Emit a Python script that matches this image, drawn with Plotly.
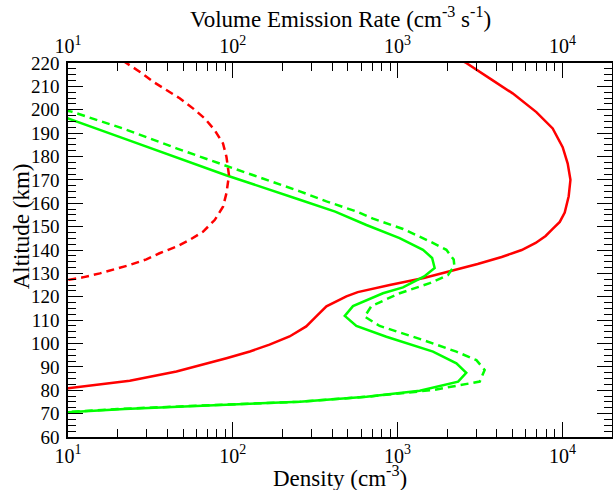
import plotly.graph_objects as go

# ---- data (altitude in km, values in cm^-3 or cm^-3 s^-1) ----
red_solid_alt = [224, 220, 213, 207, 199, 192, 184, 177, 170, 163, 156, 152, 149, 146, 143, 140, 137,
                 134, 131, 128, 125, 122, 120.2, 115.9, 111.6, 107.3, 103, 99.5, 96.6, 93.7, 88,
                 84.1, 80.8, 78]
red_solid_val = [2050, 2610, 3700, 4990, 6950, 8730, 10040, 10770, 11190, 10920, 10330, 9640, 8730,
                 7910, 6880, 5660, 4280, 3060, 2100, 1442, 896, 573, 489, 370, 321, 279, 221, 167,
                 127, 91.5, 45.5, 23.7, 10, 5]

red_dash_alt = [224, 220, 216.3, 212, 208.4, 204.9, 200.6, 196.3, 191.3, 185.6, 179.9, 172, 164.3, 158.5,
                152.8, 147.8, 144.3, 141.4, 138.6, 136, 133.6, 131.4, 130, 128.3, 127.2, 126]
red_dash_val = [18.5, 22.6, 27.2, 32.8, 39.5, 47.6, 57.3, 67.5, 77.6, 87.2, 91.5, 94.8, 91.5, 87.2,
                77.6, 65.9, 54.7, 45.4, 35.9, 29.9, 23.7, 18.7, 15.6, 12.3, 10.2, 8]

green_solid_alt = [199, 196.3, 188.5, 180, 172, 161.5, 156.4, 150.7, 145.1, 140.1, 136.6, 132.3, 128.7,
                   124, 121.5, 116, 111.8, 107.5, 102.9, 96.5, 91.5, 87.5, 83.7, 79.8, 77.2, 75.1, 72, 70]
green_solid_val = [7, 10, 20.3, 44, 91, 255, 418, 647, 1028, 1426, 1620, 1678, 1450,
                   1078, 815, 536, 478, 562, 855, 1640, 2275, 2610, 2330, 1362, 647, 255, 22, 7]

green_dash_alt = [201, 199.2, 192, 183.5, 176.4, 165.1, 160.8, 156.5, 153.4, 149, 143.7, 140.1, 135.9,
                  133.3, 129.3, 125.8, 121.5, 116, 111.5, 107.5, 101.5, 96.5, 92.9, 88.7, 83.7, 82.2,
                  80.1, 77.2, 75.1, 72, 70]
green_dash_val = [8, 10.5, 21.5, 45.5, 88, 255, 370, 562, 710, 1079, 1567, 1977, 2190,
                  2210, 2023, 1567, 1030, 693, 631, 778, 1426, 2275, 3006, 3375, 3150, 2380,
                  1640, 647, 255, 20, 7]

x_tickvals = [10, 100, 1000, 10000]
x_ticktext = ["10<sup>1</sup>", "10<sup>2</sup>", "10<sup>3</sup>", "10<sup>4</sup>"]
x_range_log = [1, 4.301]
y_range = [60, 220]

FONT = "Liberation Serif"
RED = "#ff0000"
GREEN = "#00ff00"

fig = go.Figure()
fig.add_trace(go.Scatter(x=red_solid_val, y=red_solid_alt, mode="lines",
                         line=dict(color=RED, width=2.5), showlegend=False))
fig.add_trace(go.Scatter(x=green_solid_val, y=green_solid_alt, mode="lines",
                         line=dict(color=GREEN, width=2.5), showlegend=False))
fig.add_trace(go.Scatter(x=red_dash_val, y=red_dash_alt, mode="lines", xaxis="x2",
                         line=dict(color=RED, width=2.5, dash="8px,5px"), showlegend=False))
fig.add_trace(go.Scatter(x=green_dash_val, y=green_dash_alt, mode="lines", xaxis="x2",
                         line=dict(color=GREEN, width=2.5, dash="8px,5px"), showlegend=False))

minor_vals = [v * m for v in [10, 100, 1000, 10000] for m in range(2, 10)]

common_x = dict(
    type="log", range=x_range_log, tickvals=x_tickvals, ticktext=x_ticktext,
    ticks="inside", ticklen=15, tickwidth=1.3, tickcolor="black",
    minor=dict(ticks="inside", ticklen=8, tickwidth=1, tickcolor="black", tickvals=minor_vals),
    showline=True, linecolor="black", linewidth=1.5, showgrid=False, zeroline=False,
    tickfont=dict(family=FONT, size=20, color="black"), automargin=False,
)

fig.update_layout(
    width=613, height=490,
    margin=dict(l=68, r=1, t=63, b=53),
    paper_bgcolor="white", plot_bgcolor="white",
    font=dict(family=FONT, color="black"),
    xaxis=dict(**common_x),
    xaxis2=dict(**common_x, overlaying="x", side="top", anchor="y"),
    yaxis=dict(range=y_range, dtick=10, ticks="inside", ticklen=15, tickwidth=1.3, tickcolor="black",
               minor=dict(ticks="inside", ticklen=8, dtick=2.5, tickwidth=1, tickcolor="black"),
               mirror="ticks", showline=True, linecolor="black", linewidth=1.5,
               showgrid=False, zeroline=False, automargin=False, ticklabelstandoff=3,
               tickfont=dict(family=FONT, size=19, color="black")),
    annotations=[
        dict(text="Density (cm<sup>-3</sup>)", xref="paper", yref="paper",
             x=0.5, y=-(477 - 437.3) / 374, xanchor="center", yanchor="middle",
             showarrow=False, font=dict(family=FONT, size=23, color="black")),
        dict(text="Volume Emission Rate (cm<sup>-3</sup> s<sup>-1</sup>)", xref="paper", yref="paper",
             x=0.5, y=1 + (63.3 - 18) / 374, xanchor="center", yanchor="middle",
             showarrow=False, font=dict(family=FONT, size=23, color="black")),
        dict(text="Altitude (km)", xref="paper", yref="paper", textangle=-90,
             x=(22 - 68.3) / 543.4, y=(437.3 - 227) / 374, xanchor="center", yanchor="middle",
             showarrow=False, font=dict(family=FONT, size=23, color="black")),
    ],
)

fig.write_html("out.html", config={"displayModeBar": False},
               post_script="document.body.style.margin='0';document.body.style.padding='0';")
